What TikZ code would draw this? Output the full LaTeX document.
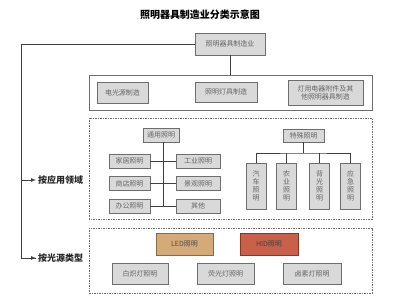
\documentclass[tikz,border=0pt]{standalone}
\usepackage{fontspec}
\setmainfont{Noto Sans CJK SC}
\usetikzlibrary{positioning}
\definecolor{boxgray}{HTML}{D9D9D9}
\definecolor{linegray}{HTML}{6E6E6E}
\definecolor{textgray}{HTML}{666666}
\definecolor{ledfill}{HTML}{D4AA78}
\definecolor{ledline}{HTML}{8A6A3E}
\definecolor{hidfill}{HTML}{C9614A}
\definecolor{hidline}{HTML}{8C3422}
\tikzset{
  graybox/.style={draw=linegray, fill=boxgray, line width=0.9pt, text=textgray,
    font=\fontsize{7}{8}\selectfont, inner sep=1pt, align=center},
  catlabel/.style={font=\fontsize{9}{10}\selectfont\bfseries, text=black!85, inner sep=2pt},
  frame/.style={draw=linegray, line width=0.8pt},
  dframe/.style={draw=linegray, line width=0.8pt, dash pattern=on 1.5pt off 1pt},
  link/.style={draw=black!75, line width=0.7pt}
}
\begin{document}
\begin{tikzpicture}[x=1pt, y=-1pt]
			\useasboundingbox (0,0) rectangle (400,302);
			% title
			\node[font=\fontsize{10}{11}\selectfont\bfseries] (title) at (200,15) {照明器具制造业分类示意图};
			\node[graybox, minimum width=70pt, minimum height=22pt] (top) at (230,44) {照明器具制造业};
			% manufacturing
			\draw[frame] (89,75) rectangle (372,110);
			\coordinate (mfgtop) at (230,75);
			\node[graybox, minimum width=51pt, minimum height=21pt] (lamp) at (122.5,92.5) {电光源制造};
			\node[graybox, minimum width=62pt, minimum height=20pt] (fixture) at (226,92) {照明灯具制造};
			\node[graybox, minimum width=75pt, minimum height=25pt] (other) at (325.5,92.5) {灯用电器附件及其\\他照明器具制造};
			\draw[link] (top) -- (mfgtop);
			% application
			\draw[dframe] (89,118) rectangle (372,219);
			\node[graybox, minimum width=36pt, minimum height=14pt] (general) at (161,135) {通用照明};
			\node[graybox, minimum width=41pt, minimum height=14pt] (home) at (129.5,161) {家居照明};
			\node[graybox, minimum width=44pt, minimum height=14pt] (industry) at (198,161) {工业照明};
			\node[graybox, minimum width=41pt, minimum height=14pt] (shop) at (129.5,183.5) {商店照明};
			\node[graybox, minimum width=44pt, minimum height=14pt] (scene) at (198,183.5) {景观照明};
			\node[graybox, minimum width=41pt, minimum height=14pt] (office) at (129.5,206) {办公照明};
			\node[graybox, minimum width=44pt, minimum height=14pt] (misc) at (198,206) {其他};
			\coordinate (trunk) at (163,206);
			\draw[link] (general.south -| trunk) -- (trunk);
			\draw[link] (home) -- (industry);
			\draw[link] (shop) -- (scene);
			\draw[link] (office) -- (misc);
			\node[graybox, minimum width=41pt, minimum height=13pt] (special) at (303.5,135.5) {特殊照明};
			\node[graybox, minimum width=20pt, minimum height=46pt] (auto) at (256,186) {汽\\车\\照\\明};
			\node[graybox, minimum width=20pt, minimum height=46pt] (farm) at (286.5,186) {农\\业\\照\\明};
			\node[graybox, minimum width=20pt, minimum height=46pt] (back) at (319.5,186) {背\\光\\照\\明};
			\node[graybox, minimum width=20pt, minimum height=46pt] (urgent) at (350.5,186) {应\\急\\照\\明};
			\coordinate (bus) at (303.5,153);
			\draw[link] (special) -- (bus);
			\draw[link] (auto) |- (bus) -| (urgent);
			\draw[link] (farm.north) -- (farm.north |- bus);
			\draw[link] (back.north) -- (back.north |- bus);
			% light source
			\draw[dframe] (89,228) rectangle (372,293);
			\node[graybox, draw=ledline, fill=ledfill, text=black!70, minimum width=57pt, minimum height=22pt] (led) at (184.5,244) {LED照明};
			\node[graybox, draw=hidline, fill=hidfill, text=black!75, minimum width=58pt, minimum height=22pt] (hid) at (269,244) {HID照明};
			\node[graybox, minimum width=56pt, minimum height=21pt] (incand) at (140,273.5) {白炽灯照明};
			\node[graybox, minimum width=57pt, minimum height=21pt] (fluor) at (225.5,273.5) {荧光灯照明};
			\node[graybox, minimum width=58pt, minimum height=21pt] (halogen) at (312,273.5) {卤素灯照明};
			% side branches
			\node[catlabel, anchor=west] (app) at (36,180) {按应用领域};
			\node[catlabel, anchor=west] (src) at (36,258) {按光源类型};
			\coordinate (corner) at (21,44);
			\draw[link] (top.west) -- (corner) |- (src.west);
			\draw[link, -latex] (corner |- app) -- (app.west);
			\draw[link, -latex] (corner |- src) -- (src.west);
		\end{tikzpicture}
\end{document}
